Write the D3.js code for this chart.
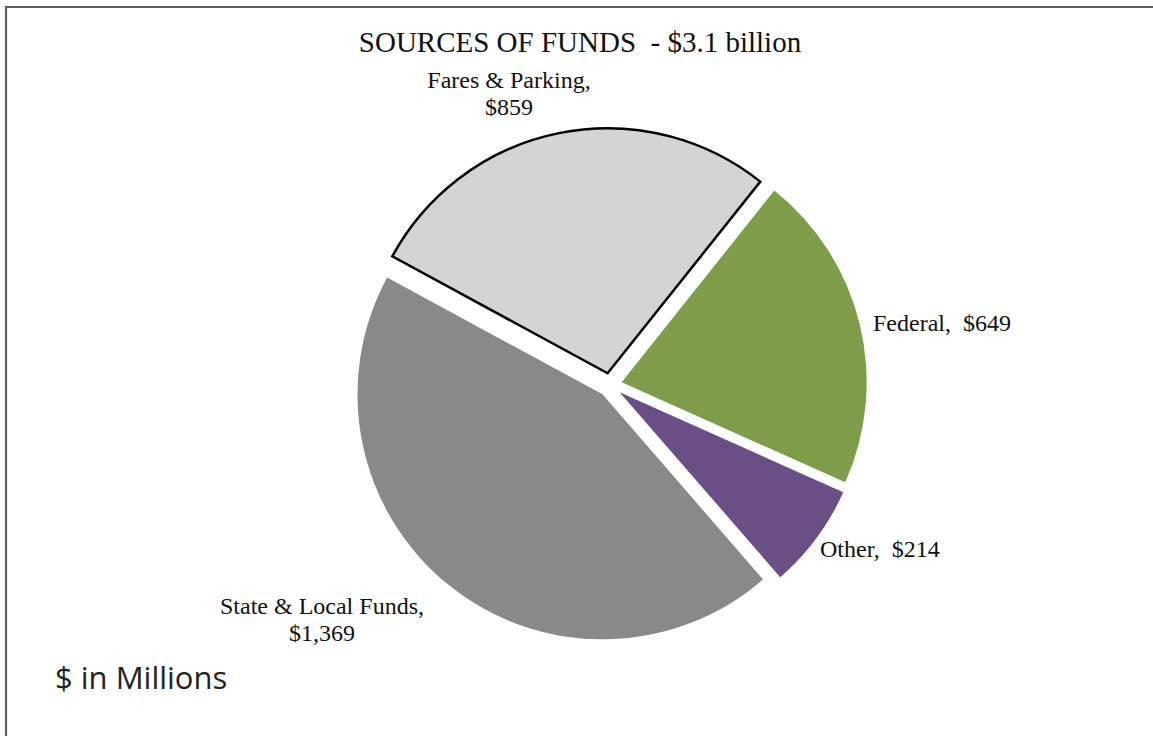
<!DOCTYPE html>
<html>
<head>
<meta charset="utf-8">
<script src="https://cdn.jsdelivr.net/npm/d3@7"></script>
<style>
  html, body { margin: 0; padding: 0; background: #fff; }
  svg { display: block; }
</style>
</head>
<body>
<svg id="chart" width="1153" height="736"></svg>
<script>
// Funding sources, in millions of dollars
const categories = ["Fares & Parking", "Federal", "Other", "State & Local Funds"];
const values = [859, 649, 214, 1369];
const labelLines = [
  ["Fares & Parking,", "$859"],
  ["Federal,  $649"],
  ["Other,  $214"],
  ["State & Local Funds,", "$1,369"]
];
const colors = ["#d4d4d4", "#7e9c49", "#6a4f86", "#898989"];

const svg = d3.select("#chart");
const W = 1153, H = 736;

svg.append("rect").attr("width", W).attr("height", H).attr("fill", "#fff");
// frame
svg.append("path")
  .attr("d", "M6,740 L6,7 L1160,7")
  .attr("fill", "none").attr("stroke", "#5c5c5c").attr("stroke-width", 2.2);

svg.append("text")
  .attr("x", 580).attr("y", 52)
  .attr("text-anchor", "middle")
  .attr("font-family", "'Liberation Serif', 'Times New Roman', serif")
  .attr("font-size", 29)
  .attr("fill", "#111")
  .attr("xml:space", "preserve")
  .text("SOURCES OF FUNDS  - $3.1 billion");

const cx = 610, cy = 385, r = 245, explode = 12;
const start = -61.5 * Math.PI / 180;
const pie = d3.pie().sort(null).startAngle(start).endAngle(start + 2 * Math.PI);
const arc = d3.arc().innerRadius(0).outerRadius(r);
const arcs = pie(values);

const g = svg.append("g").attr("transform", `translate(${cx},${cy})`);
g.selectAll("path.slice")
  .data(arcs)
  .join("path")
  .attr("class", "slice")
  .attr("transform", d => {
    const m = (d.startAngle + d.endAngle) / 2;
    return `translate(${Math.sin(m) * explode},${-Math.cos(m) * explode})`;
  })
  .attr("d", arc)
  .attr("fill", (d, i) => colors[i])
  .attr("stroke", (d, i) => i === 0 ? "#000" : "none")
  .attr("stroke-width", 2.5)
  .attr("stroke-linejoin", "miter");

// data labels
const labelPos = [
  { x: 509, y: 88, anchor: "middle" },
  { x: 873, y: 331, anchor: "start" },
  { x: 820, y: 557, anchor: "start" },
  { x: 322, y: 614, anchor: "middle" }
];
const lineH = 27;
labelLines.forEach((lines, i) => {
  const t = svg.append("text")
    .attr("x", labelPos[i].x).attr("y", labelPos[i].y)
    .attr("text-anchor", labelPos[i].anchor)
    .attr("font-family", "'Liberation Serif', 'Times New Roman', serif")
    .attr("font-size", 24)
    .attr("fill", "#111")
    .attr("xml:space", "preserve");
  lines.forEach((s, j) => {
    t.append("tspan").attr("x", labelPos[i].x).attr("dy", j === 0 ? 0 : lineH).text(s);
  });
});

svg.append("text")
  .attr("x", 55).attr("y", 689)
  .attr("font-family", "'Open Sans', 'Noto Sans', sans-serif")
  .attr("font-size", 31)
  .attr("fill", "#222")
  .text("$ in Millions");
</script>
</body>
</html>
